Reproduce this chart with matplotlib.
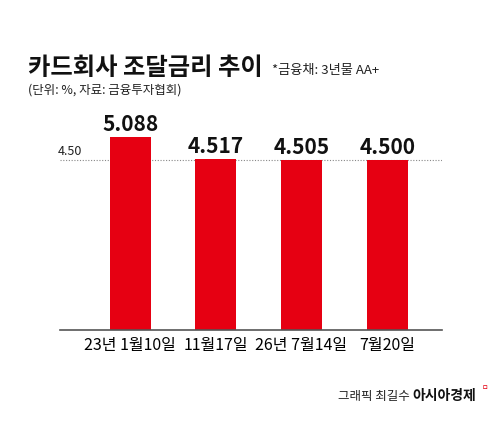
import matplotlib
matplotlib.use("Agg")
import matplotlib.pyplot as plt

categories = ["23년 1월10일", "11월17일", "26년 7월14일", "7월20일"]
values = [5.088, 4.517, 4.505, 4.500]
labels = ["5.088", "4.517", "4.505", "4.500"]

plt.rcParams['font.family'] = ['Noto Sans CJK KR', 'DejaVu Sans']
fig = plt.figure(figsize=(5, 4.31), dpi=100)
ax = fig.add_axes([0.12, 0.232, 0.764, 0.536])
x = range(len(values))
ax.bar(x, values, width=0.48, color="#e60012")
ax.set_xlim(-0.82, 3.64)
ax.set_ylim(0.14, 6.06)
ax.axhline(4.5, color="#888888", lw=0.8, ls=(0, (1, 1.5)), zorder=0)
ax.text(-0.85, 4.58, "4.50", fontsize=9, ha="left", va="bottom", color="#222")
for xi, v, l in zip(x, values, labels):
    ax.text(xi, v + 0.08, l, ha="center", va="bottom", fontsize=15, fontweight="bold", color="#111")
for s in ["top", "right", "left"]:
    ax.spines[s].set_visible(False)
ax.spines["bottom"].set_color("#555")
ax.spines["bottom"].set_linewidth(1.2)
ax.set_yticks([])
ax.set_xticks(list(x))
ax.set_xticklabels(categories, fontsize=11.5)
ax.tick_params(axis="x", length=0, pad=4)

fig.text(0.056, 0.825, "카드회사 조달금리 추이", fontsize=17.5, fontweight="bold", color="#111")
fig.text(0.545, 0.828, "*금융채: 3년물 AA+", fontsize=9.5, color="#222")
fig.text(0.056, 0.783, "(단위: %, 자료: 금융투자협회)", fontsize=9, color="#222")
fig.text(0.675, 0.072, "그래픽 최길수", fontsize=9, color="#222")
fig.text(0.825, 0.072, "아시아경제", fontsize=10, fontweight="bold", color="#111")
fig.text(0.963, 0.095, "ㅁ", fontsize=5, color="#e60012")
fig.savefig("out.png", dpi=100)
